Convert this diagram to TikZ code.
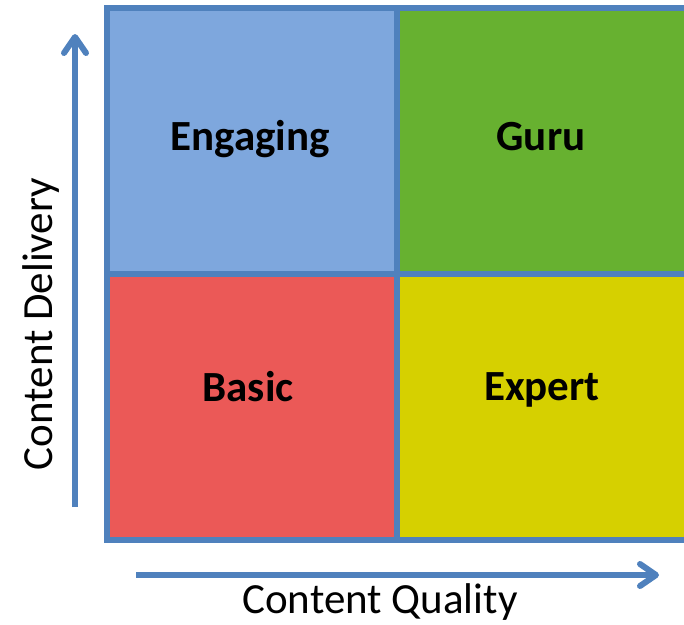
\documentclass[tikz,border=0pt]{standalone}
\usepackage{fontspec}
\setmainfont{Carlito}
\usetikzlibrary{arrows.meta}

\definecolor{frame}{RGB}{79,129,189}
\definecolor{cellblue}{RGB}{126,167,221}
\definecolor{cellgreen}{RGB}{103,177,48}
\definecolor{cellred}{RGB}{235,89,87}
\definecolor{cellyellow}{RGB}{214,208,0}

\begin{document}
\begin{tikzpicture}[x=1pt, y=-1pt,
  cell/.style={draw=frame, line width=6pt, minimum width=290pt,
    minimum height=266pt, inner sep=0pt, outer sep=0pt},
  celltext/.style={anchor=base, inner sep=0pt,
    font=\fontsize{43}{51}\selectfont\bfseries},
  axistext/.style={anchor=base, inner sep=0pt,
    font=\fontsize{43}{51}\selectfont},
  axisarrow/.style={draw=frame, line width=6pt, line join=round,
    -{Straight Barb[length=16pt, width=22pt, round]}}]
\useasboundingbox (0,0) rectangle (684,624);

% quadrants
\node[cell, fill=cellblue]   (engaging) at (252,141) {};
\node[cell, fill=cellgreen]  (guru)     at (542,141) {};
\node[cell, fill=cellred]    (basic)    at (252,407) {};
\node[cell, fill=cellyellow] (expert)   at (542,407) {};

% quadrant labels
\node[celltext] (lengaging) at (250,150) {Engaging};
\node[celltext] (lguru)     at (541,150) {Guru};
\node[celltext] (lbasic)    at (248,401) {Basic};
\node[celltext] (lexpert)   at (542,400) {Expert};

% axes
\coordinate (ystart) at (75,507);
\coordinate (yend)   at (75,34);
\coordinate (xstart) at (136,575);
\coordinate (xend)   at (659,575);
\draw[axisarrow] (ystart) -- (yend);
\draw[axisarrow] (xstart) -- (xend);

\node[axistext] (xlabel) at (380,613) {Content Quality};
\node[axistext, rotate=90] (ylabel) at (52,324) {Content Delivery};
\end{tikzpicture}
\end{document}
